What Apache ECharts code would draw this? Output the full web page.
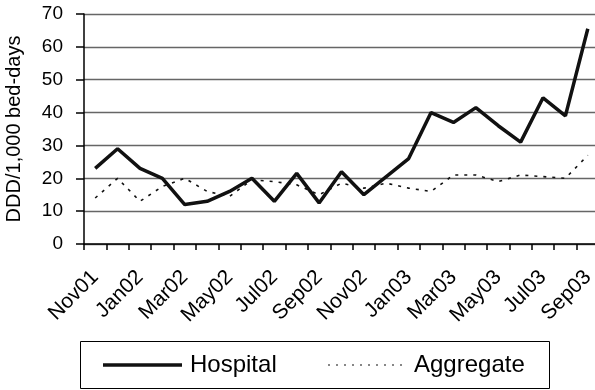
<!DOCTYPE html>
<html>
<head>
<meta charset="utf-8">
<script src="https://cdn.jsdelivr.net/npm/echarts@6/dist/echarts.min.js"></script>
<style>
  html, body { margin: 0; padding: 0; background: #fff; }
  #chart { width: 595px; height: 390px; }
</style>
</head>
<body>
<div id="chart"></div>
<script>
// Monthly antibiotic use, Nov 2001 - Sep 2003 (DDD per 1,000 bed-days)
const months = [
  'Nov01', 'Dec01', 'Jan02', 'Feb02', 'Mar02', 'Apr02', 'May02', 'Jun02',
  'Jul02', 'Aug02', 'Sep02', 'Oct02', 'Nov02', 'Dec02', 'Jan03', 'Feb03',
  'Mar03', 'Apr03', 'May03', 'Jun03', 'Jul03', 'Aug03', 'Sep03'
];
const hospital = [23, 29, 23, 20, 12, 13, 16, 20, 13, 21.5, 12.5, 22, 15, 20.5, 26,
  40, 37, 41.5, 36, 31, 44.5, 39, 65.5];
const aggregate = [14, 20, 13, 17.5, 20, 16, 14.5, 19.5, 19, 18, 15, 18.5, 17, 18.5, 17,
  16, 21, 21, 19, 21, 20.5, 20, 27];
const seriesNames = ['Hospital', 'Aggregate'];
const yTicks = { min: 0, max: 70, step: 10 };

const FONT = 'Liberation Sans, Arial, sans-serif';
const INK = '#111';
const chart = echarts.init(document.getElementById('chart'), null, { renderer: 'canvas' });

// Boxed key below the plot: a thick solid stroke and a fine dotted stroke
const keyY = 365;
const keyStyle = { fontFamily: FONT, fontSize: 24, fill: '#000' };

chart.setOption({
  animation: false,
  backgroundColor: '#fff',
  // the last month's slot runs a few pixels past the right edge of the canvas
  grid: { left: 84, top: 14, width: 515, height: 230, containLabel: false, outerBoundsMode: 'none' },
  xAxis: {
    type: 'category',
    data: months,
    boundaryGap: true,
    axisLine: { show: true, lineStyle: { color: '#000', width: 1.5 } },
    axisTick: { show: true, interval: 0, length: 6, inside: false, lineStyle: { color: '#000', width: 1.5 } },
    axisLabel: {
      interval: 1, rotate: 45, margin: 30,
      color: '#000', fontFamily: FONT, fontSize: 21
    },
    splitLine: { show: false }
  },
  yAxis: {
    type: 'value',
    min: yTicks.min, max: yTicks.max, interval: yTicks.step,
    name: 'DDD/1,000 bed-days',
    nameLocation: 'middle', nameRotate: 90, nameGap: 60,
    nameTextStyle: { color: '#000', fontFamily: FONT, fontSize: 20 },
    axisLine: { show: true, lineStyle: { color: '#000', width: 1.5 } },
    axisTick: { show: true, length: 8, inside: false, lineStyle: { color: '#000', width: 1.5 } },
    axisLabel: { margin: 21, color: '#000', fontFamily: FONT, fontSize: 19 },
    splitLine: { show: true, lineStyle: { color: '#666', width: 1.3 } }
  },
  graphic: [
    {
      type: 'rect', silent: true,
      shape: { x: 80.5, y: 341.5, width: 469, height: 47 },
      style: { fill: 'none', stroke: '#000', lineWidth: 1 }
    },
    {
      type: 'line', silent: true,
      shape: { x1: 103, y1: keyY, x2: 182, y2: keyY },
      style: { stroke: INK, lineWidth: 3.5 }
    },
    {
      type: 'text', silent: true, x: 190, y: keyY,
      style: Object.assign({ text: seriesNames[0], verticalAlign: 'middle' }, keyStyle)
    },
    {
      type: 'line', silent: true,
      shape: { x1: 328, y1: keyY, x2: 404, y2: keyY },
      style: { stroke: INK, lineWidth: 1.2, lineDash: [2, 6] }
    },
    {
      type: 'text', silent: true, x: 414, y: keyY,
      style: Object.assign({ text: seriesNames[1], verticalAlign: 'middle' }, keyStyle)
    }
  ],
  series: [
    {
      name: seriesNames[0], type: 'line', data: hospital,
      showSymbol: false, symbol: 'none',
      lineStyle: { color: INK, width: 3.5 },
      z: 3
    },
    {
      name: seriesNames[1], type: 'line', data: aggregate,
      showSymbol: false, symbol: 'none',
      lineStyle: { color: INK, width: 1.6, type: [3, 6] },
      z: 2
    }
  ]
});
</script>
</body>
</html>
